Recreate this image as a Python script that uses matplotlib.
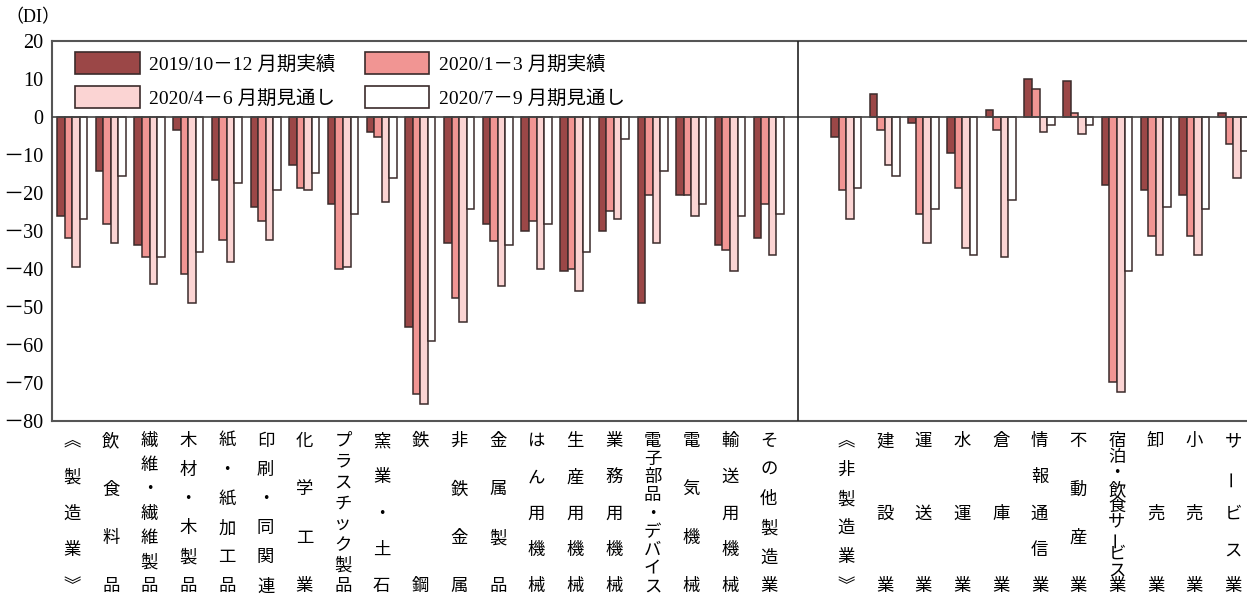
import numpy as np
import matplotlib
matplotlib.use("Agg")
import matplotlib.pyplot as plt
from matplotlib.patches import Patch

plt.rcParams['font.family'] = ['Liberation Serif', 'Noto Sans CJK JP', 'DejaVu Sans']

# industries (manufacturing / non-manufacturing)
mfg_labels = ['︽製造業︾', '飲食料品', '繊維・繊維製品', '木材・木製品', '紙・紙加工品',
              '印刷・同関連', '化学工業', 'プラスチック製品', '窯業・土石', '鉄鋼',
              '非鉄金属', '金属製品', 'はん用機械', '生産用機械', '業務用機械',
              '電子部品・デバイス', '電気機械', '輸送用機械', 'その他製造業']
non_labels = ['︽非製造業︾', '建設業', '運送業', '水運業', '倉庫業', '情報通信業',
              '不動産業', '宿泊・飲食サービス業', '卸売業', '小売業', 'サービス業']

series_names = ['2019/10－12 月期実績', '2020/1－3 月期実績',
                '2020/4－6 月期見通し', '2020/7－9 月期見通し']

mfg_q4_2019 = [-26.1, -14.1, -33.8, -3.3, -16.7, -23.7, -12.7, -23.0, -4.0, -55.3,
               -33.1, -28.1, -29.9, -40.6, -29.9, -48.9, -20.4, -33.8, -31.8]
mfg_q1_2020 = [-31.8, -28.1, -36.8, -41.3, -32.4, -27.3, -18.6, -40.0, -5.2, -73.0,
               -47.6, -32.5, -27.4, -40.0, -24.8, -20.4, -20.4, -34.9, -23.0]
mfg_q2_2020 = [-39.5, -33.1, -43.9, -48.9, -38.2, -32.4, -19.2, -39.5, -22.4, -75.4,
               -53.9, -44.5, -40.0, -45.8, -26.8, -33.1, -26.1, -40.6, -36.2]
mfg_q3_2020 = [-26.8, -15.4, -36.8, -35.6, -17.3, -19.2, -14.7, -25.4, -16.0, -59.0,
               -24.2, -33.8, -28.1, -35.6, -5.9, -14.1, -23.0, -26.1, -25.5]

non_q4_2019 = [-5.3, 6.1, -1.5, -9.6, 1.8, 9.9, 9.4, -17.8, -19.1, -20.4, 1.1]
non_q1_2020 = [-19.1, -3.3, -25.4, -18.6, -3.3, 7.5, 1.1, -69.7, -31.2, -31.2, -7.1]
non_q2_2020 = [-26.8, -12.7, -33.1, -34.4, -36.8, -3.9, -4.6, -72.4, -36.2, -36.2, -16.0]
non_q3_2020 = [-18.6, -15.4, -24.2, -36.2, -21.8, -2.0, -2.0, -40.6, -23.6, -24.2, -9.0]

colors = ['#9b4747', '#f19593', '#fbd4d3', '#ffffff']
edge = '#3b2b2b'

labels = mfg_labels + non_labels
series = [mfg_q4_2019 + non_q4_2019, mfg_q1_2020 + non_q1_2020,
          mfg_q2_2020 + non_q2_2020, mfg_q3_2020 + non_q3_2020]
x = np.concatenate([np.arange(len(mfg_labels)),
                    np.arange(len(non_labels)) + len(mfg_labels) + 1])

fig = plt.figure(figsize=(12.47, 5.98), dpi=100)
ax = fig.add_axes([0.0417, 0.296, 0.9583, 0.6354])

w = 0.195
for k, vals in enumerate(series):
    ax.bar(x + (k - 1.5) * w, vals, width=w, color=colors[k], edgecolor=edge,
           linewidth=1.1, zorder=3)

ax.set_xlim(-0.52, 30.36)
ax.set_ylim(-80, 20)
ax.set_yticks(range(-80, 21, 10))
ax.set_yticklabels([('－' + str(-v)) if v < 0 else str(v) for v in range(-80, 21, 10)],
                   fontsize=14.5)
ax.tick_params(axis='y', length=0, pad=6)
ax.set_xticks([])
ax.axhline(0, color='#444444', lw=1.2, zorder=4)
ax.axvline(18.76, color='#222222', lw=1.2, zorder=4)
for s in ['top', 'left', 'bottom']:
    ax.spines[s].set_color('#555555')
    ax.spines[s].set_linewidth(1.5)
ax.spines['right'].set_visible(False)

fig.text(0.004, 0.97, '（DI）', fontsize=13, ha='left', va='center')

# vertical category labels, one character at a time, spread top to bottom
trans = ax.get_xaxis_transform()
y_top, y_bot = -0.055, -0.438
for xi, lab in zip(x, labels):
    chars = list(lab)
    ys = np.linspace(y_top, y_bot, len(chars))
    for ch, yy in zip(chars, ys):
        rot = 90 if ch == 'ー' else 0
        ax.text(xi, yy, ch, transform=trans, ha='center', va='center',
                fontsize=12.5, rotation=rot, clip_on=False)

handles = [Patch(facecolor=c, edgecolor=edge, linewidth=1.2) for c in colors]
order = [0, 2, 1, 3]
ax.legend([handles[i] for i in order], [series_names[i] for i in order],
          ncol=2, loc='upper left', bbox_to_anchor=(0.005, 1.018), frameon=False,
          fontsize=14, handlelength=3.3, handleheight=1.4, columnspacing=1.5,
          labelspacing=0.6, handletextpad=0.5)

fig.savefig('out.png', dpi=100)
